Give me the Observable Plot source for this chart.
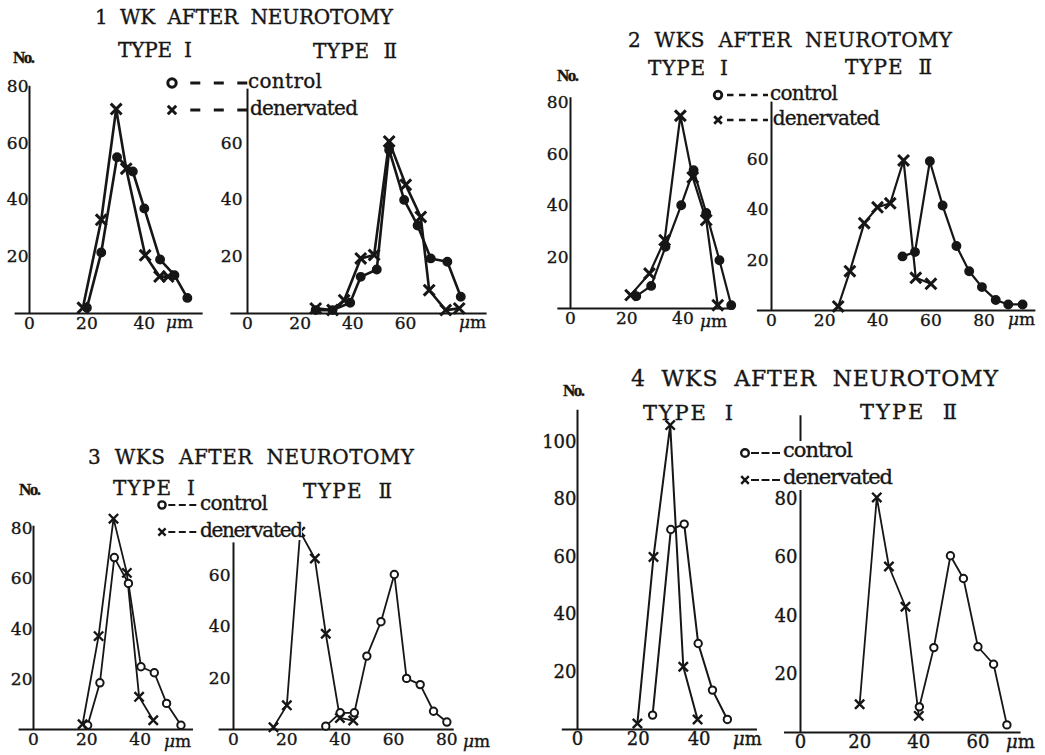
<!DOCTYPE html>
<html><head><meta charset="utf-8">
<script src="https://cdn.jsdelivr.net/npm/d3@7"></script>
<script src="https://cdn.jsdelivr.net/npm/@observablehq/plot@0.6"></script>
<style>
body{margin:0;background:#fff;}
#fig{position:relative;width:1045px;height:755px;overflow:hidden;background:#fff;font-family:"DejaVu Serif",serif;color:#161616;}
.abs{position:absolute;white-space:pre;line-height:1;-webkit-text-stroke:0.35px #161616;}
</style></head><body><div id="fig"></div>
<script>
// ---------------- data (fiber diameter µm, number of fibers) ----------------
const wk1TypeIControl     = [[20,2],[25,21.5],[30.5,55],[36,50],[40,37],[45.5,19],[50.5,13.5],[55,5.5]];
const wk1TypeIDenervated  = [[18.6,2],[25,33],[30.2,72],[33.7,51],[40.3,20.5],[45.3,13],[48.3,13]];
const wk1TypeIIControl    = [[25.9,1.2],[32.3,1.2],[39,3.8],[43,12.9],[49.1,15.5],[53.8,57.6],[59.5,40],[64.6,31],[69.6,19.4],[75.9,18.2],[81,5.9]];
const wk1TypeIIDenervated = [[25.9,1.8],[32.3,1.2],[36.7,4.7],[43,19.4],[48.1,20.6],[53.8,60.6],[60.1,45.3],[65.8,34],[69,8.2],[75.3,1.2],[80.4,1.8]];
const wk2TypeIControl     = [[23.4,4.8],[28.7,8.8],[33.8,24],[39.4,40.2],[43.8,53.8],[48.3,37.2],[53,18.8],[57.2,1.3]];
const wk2TypeIDenervated  = [[21.4,5.2],[28.1,13.6],[33.5,26.6],[39.1,75],[43.5,51],[48.3,34.4],[52.4,1.3]];
const wk2TypeIIControl    = [[49.3,21.5],[54,23.2],[59.6,59.3],[64.4,41.7],[69.6,25.6],[74.4,15.6],[79.2,9.3],[84.4,4.2],[89.1,2.4],[94.5,2.4]];
const wk2TypeIIDenervated = [[25.1,1.6],[29.5,15.6],[34.9,34.7],[39.9,41],[44.7,42.6],[49.7,59.6],[54.3,13],[60,10.6]];
const wk3TypeIControl     = [[20.3,1.7],[24.9,18.6],[30.3,68.5],[35.6,58.2],[40.3,25],[45.3,22.6],[49.9,10.4],[55.3,1.7]];
const wk3TypeIDenervated  = [[18.4,2.1],[24.4,37.2],[30,84],[35,62.4],[39.6,13],[44.9,3.7]];
const wk3TypeIIControl    = [[34.6,1.3],[40,6.5],[45.3,6.5],[50,28.6],[55.3,42],[60.3,60.4],[64.9,19.9],[70,17.5],[75,7.1],[80,2.9]];
const wk3TypeIIDenervated = [[15,0.9],[20,9.4],[25,77],[30.5,66.6],[34.6,37.3],[39.9,4.5],[44.9,3.5]];
const wk4TypeIControl     = [[24.7,5],[30.7,69.5],[35.1,71.4],[39.7,29.9],[44.4,13.7],[49.3,3.5]];
const wk4TypeIDenervated  = [[19.7,2.1],[25,60],[30.5,105.8],[34.8,21.8],[39.5,3.5]];
const wk4TypeIIControl    = [[40.2,8.8],[45.1,29.1],[50.7,60.6],[55.1,52.8],[60,29.4],[65.3,23.4],[69.8,2.6]];
const wk4TypeIIDenervated = [[20,9.7],[25.8,80.6],[29.9,56.9],[35.5,43.1],[40,5.7]];

const xTicks40 = [0,20,40], xTicks60 = [0,20,40,60], xTicks80 = [0,20,40,60,80];
const yTicks60 = [20,40,60], yTicks80 = [20,40,60,80], yTicks100 = [20,40,60,80,100];

const titles = ["1  WK  AFTER  NEUROTOMY","2  WKS  AFTER  NEUROTOMY","3  WKS  AFTER  NEUROTOMY","4  WKS  AFTER  NEUROTOMY"];
const typeLabels = ["TYPE  I","TYPE  Ⅱ"];
const legendLabels = ["control","denervated"];
const yUnit = "No.";

// ---------------- layout ----------------
const INK = "#161616";
const fig = document.getElementById("fig");

const panels = [
  {control:wk1TypeIControl, denervated:wk1TypeIDenervated, x0:28.5, y0:313, xk:2.87, yk:2.84, xExt:[-5,60.5], axisTop:80, xTicks:xTicks40, yTicks:yTicks80, yPad:1, fs:17, lw:2.6, filled:true},
  {control:wk1TypeIIControl, denervated:wk1TypeIIDenervated, x0:246.7, y0:313, xk:2.633, yk:2.84, xExt:[-6.3,91], axisTop:79, xTicks:xTicks60, yTicks:yTicks60, yPad:5, fs:17, lw:2.6, filled:true},
  {control:wk2TypeIControl, denervated:wk2TypeIDenervated, x0:569.5, y0:308.3, xk:2.81, yk:2.57, xExt:[-4.5,58.4], axisTop:82, xTicks:xTicks40, yTicks:yTicks80, yPad:2, fs:17, lw:2.2, filled:true},
  {control:wk2TypeIIControl, denervated:wk2TypeIIDenervated, x0:771, y0:310, xk:2.657, yk:2.517, xExt:[-5.3,99.5], axisTop:82.8, xTicks:xTicks80, yTicks:yTicks60, yPad:3, fs:17, lw:2.2, filled:true},
  {control:wk3TypeIControl, denervated:wk3TypeIDenervated, x0:32.7, y0:729.3, xk:2.667, yk:2.51, xExt:[-5.4,60], axisTop:81, xTicks:xTicks40, yTicks:yTicks80, yPad:1, fs:17, lw:1.8, filled:false},
  {control:wk3TypeIIControl, denervated:wk3TypeIIDenervated, x0:232.7, y0:728.8, xk:2.667, yk:2.567, xExt:[-5.4,82.75], axisTop:72.7, xTicks:xTicks80, yTicks:yTicks60, yPad:3, fs:17, lw:1.8, filled:false},
  {control:wk4TypeIControl, denervated:wk4TypeIDenervated, x0:577, y0:729.3, xk:3.04, yk:2.877, xExt:[-5,59.2], axisTop:111, xTicks:xTicks40, yTicks:yTicks100, yPad:1, fs:18, lw:2, filled:false},
  {control:wk4TypeIIControl, denervated:wk4TypeIIDenervated, x0:799.5, y0:731.7, xk:2.957, yk:2.917, xExt:[-5.4,74.6], axisTop:108.6, xTicks:xTicks60, yTicks:yTicks80, yPad:3, fs:18, lw:1.8, filled:false}
];

function drawPanel(p) {
  const ml = 44, mr = 12, mt = 12, mb = 30;
  const ctrl = p.control.map(([x, y]) => ({x, y}));
  const den = p.denervated.map(([x, y]) => ({x, y}));
  const dTop = Math.max(p.axisTop, d3.max([...ctrl, ...den], d => d.y)) + 2;
  const plotH = dTop * p.yk;
  const width = Math.ceil(ml + p.xExt[1] * p.xk + mr);
  const height = Math.ceil(mt + plotH + mb);
  const left = p.x0 - ml, top = p.y0 - (height - mb);
  const svg = Plot.plot({
    width, height, marginLeft: ml, marginRight: mr, marginTop: height - mb - plotH, marginBottom: mb,
    style: {fontFamily: "DejaVu Serif", fontSize: p.fs + "px", background: "transparent", overflow: "visible", color: INK},
    x: {domain: p.xExt, range: [ml + p.xExt[0] * p.xk, ml + p.xExt[1] * p.xk], ticks: p.xTicks, tickSize: 0, tickPadding: 3, label: null},
    y: {domain: [0, dTop], range: [height - mb, height - mb - plotH], ticks: p.yTicks, tickSize: 0, tickPadding: p.yPad, label: null},
    marks: [
      Plot.ruleY([0], {x1: p.xExt[0], x2: p.xExt[1], stroke: INK, strokeWidth: 2}),
      Plot.ruleX([0], {y1: 0, y2: p.axisTop, stroke: INK, strokeWidth: 2}),
      Plot.line(ctrl, {x: "x", y: "y", stroke: INK, strokeWidth: p.lw}),
      Plot.line(den, {x: "x", y: "y", stroke: INK, strokeWidth: p.lw}),
      Plot.dot(ctrl, {x: "x", y: "y", symbol: "circle", r: p.filled ? 4.2 : 3.7, fill: p.filled ? INK : "white", stroke: INK, strokeWidth: p.filled ? 1.5 : 2}),
      Plot.dot(den, {x: "x", y: "y", symbol: "times", r: p.filled ? 5 : 4.3, fill: "none", stroke: INK, strokeWidth: p.filled ? 3 : 2.4})
    ]
  });
  svg.querySelectorAll("text").forEach(t => { t.setAttribute("stroke", INK); t.setAttribute("stroke-width", "0.35"); });
  svg.style.position = "absolute";
  svg.style.left = left + "px";
  svg.style.top = top + "px";
  svg.style.maxWidth = "none";
  fig.appendChild(svg);
}
panels.forEach(drawPanel);

// ---------------- text helpers ----------------
function placeText({text, html, left, right, cy, size, family = "DejaVu Serif", weight = "normal", vc = 0.48, bg = false}) {
  const el = document.createElement("div");
  el.className = "abs";
  if (html) el.innerHTML = html; else el.textContent = text;
  el.style.fontSize = size + "px";
  el.style.fontFamily = family;
  el.style.fontWeight = weight;
  el.style.left = left + "px";
  el.style.top = (cy - vc * size) + "px";
  if (bg) { el.style.background = "#fff"; }
  fig.appendChild(el);
  if (right != null) {
    const w = el.getBoundingClientRect().width;
    const n = [...el.textContent].length;
    let ls = (right - left - w) / Math.max(1, n - 1);
    ls = Math.max(-2, Math.min(6, ls));
    el.style.letterSpacing = ls + "px";
  }
  return el;
}

// titles
[[titles[0], 95, 393, 17, 20], [titles[1], 628, 952, 40, 20], [titles[2], 88, 414, 457, 20], [titles[3], 631, 998, 379, 22]]
  .forEach(([t, l, r, y, s]) => placeText({text: t, left: l, right: r, cy: y, size: s}));

// TYPE headings
[[0, 118, 192, 50, 20], [1, 313, 397, 51, 20], [0, 648, 728, 68, 20], [1, 845, 932, 67, 20],
 [0, 113, 195, 488, 20], [1, 303, 392, 491, 20], [0, 643, 733, 413, 21], [1, 860, 957, 412, 21]]
  .forEach(([i, l, r, y, s]) => placeText({text: typeLabels[i], left: l, right: r, cy: y, size: s}));

// "No."
[[13, 57], [557, 75], [19, 489], [563, 390]]
  .forEach(([l, y]) => placeText({text: yUnit, left: l, right: l + 22, cy: y, size: 17, family: "Liberation Serif", weight: "bold", vc: 0.5}));

// µm unit labels
[[166, 323, 17], [459, 323, 17], [700, 322, 17], [1008, 320, 17], [164, 742, 17], [463, 742, 17], [733, 740, 18], [1006, 743, 18]]
  .forEach(([l, y, s]) => placeText({html: "<i>μ</i>m", left: l, cy: y, size: s, vc: 0.55}));

// ---------------- legends ----------------
const NS = "http://www.w3.org/2000/svg";
function legendRow(kind, mx, my, d0, d1, dash, dw, ms, sw) {
  const s = document.createElementNS(NS, "svg");
  const w = d1 - mx + 10;
  s.setAttribute("width", w); s.setAttribute("height", 18);
  s.style.position = "absolute"; s.style.left = (mx - 8) + "px"; s.style.top = (my - 9) + "px"; s.style.overflow = "visible";
  const ox = 8, oy = 9;
  if (kind === "circle") {
    const c = document.createElementNS(NS, "circle");
    c.setAttribute("cx", ox); c.setAttribute("cy", oy); c.setAttribute("r", ms);
    c.setAttribute("fill", "white"); c.setAttribute("stroke", INK); c.setAttribute("stroke-width", sw);
    s.appendChild(c);
  } else {
    const p = document.createElementNS(NS, "path");
    const a = ms;
    p.setAttribute("d", `M${ox - a},${oy - a}L${ox + a},${oy + a}M${ox - a},${oy + a}L${ox + a},${oy - a}`);
    p.setAttribute("stroke", INK); p.setAttribute("stroke-width", sw); p.setAttribute("fill", "none");
    s.appendChild(p);
  }
  const l = document.createElementNS(NS, "line");
  l.setAttribute("x1", d0 - mx + ox); l.setAttribute("x2", d1 - mx + ox);
  l.setAttribute("y1", oy); l.setAttribute("y2", oy);
  l.setAttribute("stroke", INK); l.setAttribute("stroke-width", dw);
  l.setAttribute("stroke-dasharray", dash);
  s.appendChild(l);
  fig.appendChild(s);
}

// white mask behind the 4-week legend (interrupts the axis as in the original)
const mask = document.createElement("div");
mask.style.cssText = "position:absolute;left:782px;top:441px;width:115px;height:49px;background:#fff;";
fig.appendChild(mask);

const legends = [
  {rows: [[82.5, 248, 322], [110, 250, 358]], mx: 171.7, d0: 190, d1: 247, dash: "10,13.5", dw: 2.8, ms: 4.2, sw: 3, size: 20, bg: false},
  {rows: [[95, 770, 838], [120, 772.7, 880]], mx: 718, d0: 727, d1: 768, dash: "6.5,5.5", dw: 2.6, ms: 3.8, sw: 2.8, size: 20, bg: false},
  {rows: [[505, 200, 268], [532, 200, 303]], mx: 161.7, d0: 168, d1: 197, dash: "7,3.5", dw: 1.8, ms: 3.6, sw: 2.4, size: 20, bg: true},
  {rows: [[453, 783, 853], [480, 783, 893]], mx: 745, d0: 751, d1: 780, dash: "8,2.5", dw: 1.8, ms: 3.8, sw: 2.4, size: 21, bg: false}
];
legends.forEach(L => {
  L.rows.forEach(([y, tl, tr], i) => {
    legendRow(i === 0 ? "circle" : "times", L.mx, y, L.d0, L.d1, L.dash, L.dw, L.ms, L.sw);
    placeText({text: legendLabels[i], left: tl, right: tr, cy: y, size: L.size, vc: 0.6, bg: L.bg});
  });
});
</script></body></html>
